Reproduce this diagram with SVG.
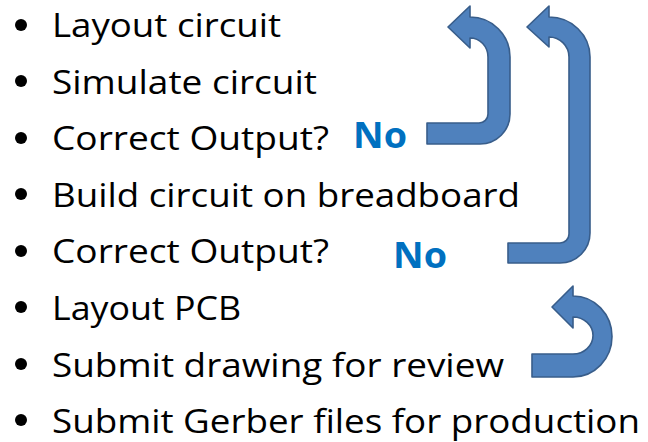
<svg xmlns="http://www.w3.org/2000/svg" width="648" height="442" viewBox="0 0 648 442">
<style>
.item{font-family:"Open Sans","Noto Sans","Liberation Sans",sans-serif;font-size:33.5px;fill:#000}
.no{font-family:"Open Sans","Noto Sans","Liberation Sans",sans-serif;font-size:35px;font-weight:bold;fill:#0070C0}
.bul{fill:#000}
.arrow{fill:#4F81BD;stroke:#385D8A;stroke-width:1.6;stroke-linejoin:round}
</style>
<rect width="648" height="442" fill="#fff"/>
<g id="item1"><circle class="bul" cx="21" cy="25" r="6"/><text class="item" x="52" y="37" textLength="229" lengthAdjust="spacingAndGlyphs">Layout circuit</text></g>
<g id="item2"><circle class="bul" cx="21" cy="81" r="6"/><text class="item" x="52" y="94" textLength="265" lengthAdjust="spacingAndGlyphs">Simulate circuit</text></g>
<g id="item3"><circle class="bul" cx="21" cy="138" r="6"/><text class="item" x="52" y="150" textLength="277" lengthAdjust="spacingAndGlyphs">Correct Output?</text></g>
<g id="item4"><circle class="bul" cx="21" cy="194" r="6"/><text class="item" x="52" y="207" textLength="468" lengthAdjust="spacingAndGlyphs">Build circuit on breadboard</text></g>
<g id="item5"><circle class="bul" cx="21" cy="251" r="6"/><text class="item" x="52" y="263" textLength="277" lengthAdjust="spacingAndGlyphs">Correct Output?</text></g>
<g id="item6"><circle class="bul" cx="21" cy="307" r="6"/><text class="item" x="52" y="320" textLength="189" lengthAdjust="spacingAndGlyphs">Layout PCB</text></g>
<g id="item7"><circle class="bul" cx="21" cy="364" r="6"/><text class="item" x="52" y="377" textLength="452" lengthAdjust="spacingAndGlyphs">Submit drawing for review</text></g>
<g id="item8"><circle class="bul" cx="21" cy="420" r="6"/><text class="item" x="52" y="433" textLength="588" lengthAdjust="spacingAndGlyphs">Submit Gerber files for production</text></g>
<g id="no1"><text class="no" x="353" y="148" textLength="54" lengthAdjust="spacingAndGlyphs">No</text></g>
<g id="no2"><text class="no" x="393" y="268" textLength="54" lengthAdjust="spacingAndGlyphs">No</text></g>
<g id="connectors">
<path class="arrow" d="M427,123 H479 A9,9 0 0 0 488,114 V57 A18,19 0 0 0 470,38 V48 L448,27 L470,6 V17 A40,40 0 0 1 510,57 V114 A30,30 0 0 1 480,144 H427 Z"/>
<path class="arrow" d="M508,243 H560 A9,9 0 0 0 569,234 V57 A20,20 0 0 0 549,37 V47 L527,27 L549,6 V17 A41,40 0 0 1 590,57 V233 A30,30 0 0 1 560,263 H508 Z"/>
<path class="arrow" d="M532,354 H573 A20,18.5 0 0 0 573,317 V328 L552,307 L573,286 V296 A39,40.5 0 0 1 573,377 H532 Z"/>
</g>
</svg>
